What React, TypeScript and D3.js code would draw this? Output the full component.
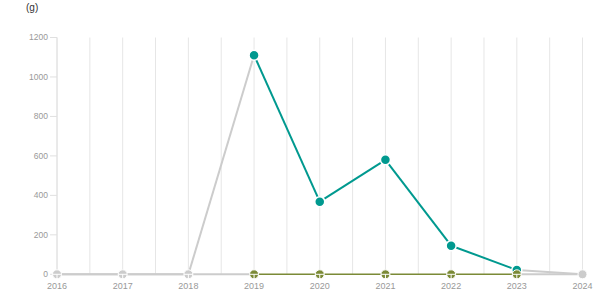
import React from "react";
import * as d3 from "d3";

// Yearly amounts in grams
const years = [2016, 2017, 2018, 2019, 2020, 2021, 2022, 2023, 2024];
const amountValues = [0, 0, 0, 1110, 368, 580, 145, 22, 0];
const baselineValues = [0, 0, 0, 0, 0, 0, 0, 0, 0];
// Years in which each series is reported (drawn in colour); outside them it is grey
const amountActiveYears = [2019, 2020, 2021, 2022, 2023];
const baselineActiveYears = [2019, 2020, 2021, 2022, 2023];
const yTicks = [0, 200, 400, 600, 800, 1000, 1200];
const unitLabel = "(g)";

const W = 615;
const H = 305;
const TEAL = "#00998f";
const OLIVE = "#7b8a36";
const GREY = "#cccccc";

export default function App() {
  const x = d3.scaleLinear().domain([2016, 2024]).range([57, 582.5]);
  const y = d3.scaleLinear().domain([0, 1200]).range([274.3, 37.5]);

  const gridYears = d3.range(2016, 2024.01, 0.5);

  type Pt = { year: number; v: number };
  const toPts = (vals: number[]): Pt[] => years.map((yr, i) => ({ year: yr, v: vals[i] }));
  const line = d3
    .line<Pt>()
    .x((d) => x(d.year))
    .y((d) => y(d.v));

  // split a series into consecutive segments, coloured by whether both ends are active
  const segments = (vals: number[], active: number[], color: string) => {
    const pts = toPts(vals);
    const segs: { d: string; color: string; active: boolean }[] = [];
    for (let i = 0; i < pts.length - 1; i++) {
      const on = active.includes(pts[i].year) && active.includes(pts[i + 1].year);
      segs.push({ d: line([pts[i], pts[i + 1]]) || "", color: on ? color : GREY, active: on });
    }
    return segs;
  };

  const amountSegs = segments(amountValues, amountActiveYears, TEAL);
  const baseSegs = segments(baselineValues, baselineActiveYears, OLIVE);

  const zeroMarker = (cx: number, cy: number, fill: string, key: string) => (
    <g key={key}>
      <circle cx={cx} cy={cy} r={4.5} fill={fill} stroke="#fff" strokeWidth={1} />
      <line x1={cx - 4.5} x2={cx + 4.5} y1={cy} y2={cy} stroke="#fff" strokeWidth={1} />
      <line x1={cx} x2={cx} y1={cy} y2={cy + 5} stroke="#fff" strokeWidth={1} />
    </g>
  );

  const lastYear = years[years.length - 1];

  return (
    <svg
      width={W}
      height={H}
      style={{ position: "absolute", left: 0, top: 0, background: "#fff" }}
      fontFamily="'Liberation Sans', Arial, sans-serif"
    >
      <text x={26} y={10.5} fontSize={10} fill="#333">
        {unitLabel}
      </text>

      {/* vertical grid */}
      {gridYears.map((g) => (
        <line
          key={g}
          x1={x(g)}
          x2={x(g)}
          y1={y(1200)}
          y2={y(0)}
          stroke="#e6e6e6"
          strokeWidth={1}
        />
      ))}

      {/* y axis */}
      <line x1={x(2016)} x2={x(2016)} y1={y(1200)} y2={y(0)} stroke="#e0e0e0" />
      {yTicks.map((t) => (
        <g key={t}>
          <line x1={50} x2={x(2016)} y1={y(t)} y2={y(t)} stroke="#e0e0e0" />
          <text x={48} y={y(t)} dy="0.35em" textAnchor="end" fontSize={8.5} fill="#999">
            {t}
          </text>
        </g>
      ))}

      {/* x labels */}
      {years.map((yr) => (
        <text key={yr} x={x(yr)} y={288.5} textAnchor="middle" fontSize={9} fill="#999">
          {yr}
        </text>
      ))}

      {/* grey (inactive) segments first */}
      {[...amountSegs, ...baseSegs]
        .filter((s) => !s.active)
        .map((s, i) => (
          <path key={"g" + i} d={s.d} fill="none" stroke={GREY} strokeWidth={2} />
        ))}
      {baseSegs
        .filter((s) => s.active)
        .map((s, i) => (
          <path key={"o" + i} d={s.d} fill="none" stroke={OLIVE} strokeWidth={1.5} />
        ))}
      {amountSegs
        .filter((s) => s.active)
        .map((s, i) => (
          <path key={"t" + i} d={s.d} fill="none" stroke={TEAL} strokeWidth={2} />
        ))}

      {/* amount markers */}
      {years.map((yr, i) => {
        const active = amountActiveYears.includes(yr);
        if (!active) return null;
        return (
          <circle
            key={"am" + yr}
            cx={x(yr)}
            cy={y(amountValues[i])}
            r={5}
            fill={TEAL}
            stroke="#fff"
            strokeWidth={1.5}
          />
        );
      })}
      {years.map((yr, i) => {
        if (amountActiveYears.includes(yr)) return null;
        if (yr === lastYear) {
          return (
            <circle
              key={"ag" + yr}
              cx={x(yr)}
              cy={y(amountValues[i])}
              r={4.5}
              fill={GREY}
              stroke="#fff"
              strokeWidth={1}
            />
          );
        }
        return zeroMarker(x(yr), y(amountValues[i]), GREY, "ag" + yr);
      })}

      {/* baseline markers */}
      {years.map((yr, i) =>
        baselineActiveYears.includes(yr)
          ? zeroMarker(x(yr), y(baselineValues[i]), OLIVE, "bm" + yr)
          : null
      )}
    </svg>
  );
}
